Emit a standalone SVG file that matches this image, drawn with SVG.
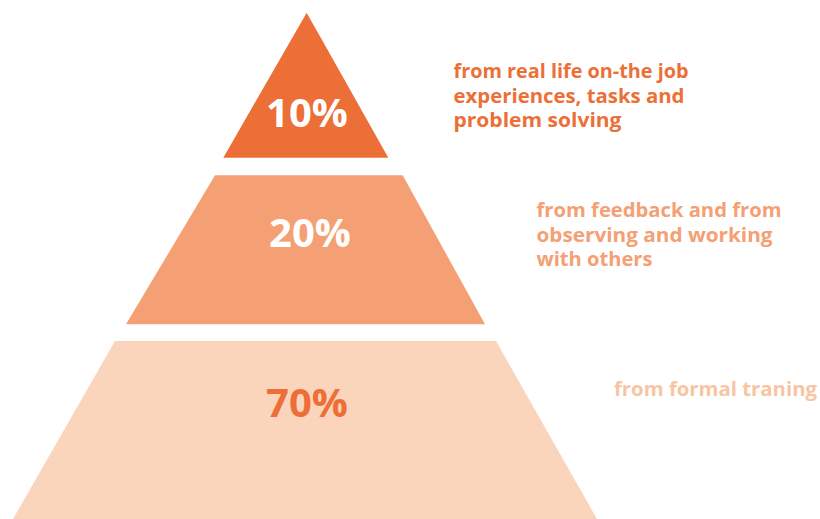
<svg xmlns="http://www.w3.org/2000/svg" width="820" height="519" viewBox="0 0 820 519">
  <style>
    .pct { font-family: "Open Sans", "Noto Sans", sans-serif; font-weight: 700; font-size: 40px; text-anchor: middle; }
    .lbl { font-family: "Open Sans", "Noto Sans", sans-serif; font-weight: 700; font-size: 20px; }
    .c1 { fill: #ec6f38; }
    .c2 { fill: #f4a074; }
    .c3 { fill: #fbd4bc; }
    .c3t { fill: #f9c4a2; }
    .white { fill: #ffffff; }
  </style>
  <rect width="820" height="519" fill="#ffffff"/>

  <!-- top tier: 10% -->
  <g id="tier-top">
    <polygon class="c1" points="306.7,12.7 388.3,157.7 223.3,157.7"/>
    <text class="pct white" x="307" y="127">10%</text>
  </g>

  <!-- middle tier: 20% -->
  <g id="tier-middle">
    <polygon class="c2" points="215,175.3 402.7,175.3 485,324.3 126,324.3"/>
    <text class="pct white" x="310" y="246.5">20%</text>
  </g>

  <!-- bottom tier: 70% -->
  <g id="tier-bottom">
    <polygon class="c3" points="115,341 496,341 597,519 13,519"/>
    <text class="pct c1" x="307" y="417">70%</text>
  </g>

  <!-- descriptions -->
  <g id="label-top">
    <text class="lbl c1" x="453.5" y="78" textLength="235" lengthAdjust="spacingAndGlyphs">from real life on-the job</text>
    <text class="lbl c1" x="453.5" y="102.5" textLength="231" lengthAdjust="spacingAndGlyphs">experiences, tasks and</text>
    <text class="lbl c1" x="453.5" y="127" textLength="168" lengthAdjust="spacingAndGlyphs">problem solving</text>
  </g>
  <g id="label-middle">
    <text class="lbl c2" x="536.5" y="217" textLength="245" lengthAdjust="spacingAndGlyphs">from feedback and from</text>
    <text class="lbl c2" x="536.5" y="241.5" textLength="236" lengthAdjust="spacingAndGlyphs">observing and working</text>
    <text class="lbl c2" x="536.5" y="266" textLength="116" lengthAdjust="spacingAndGlyphs">with others</text>
  </g>
  <g id="label-bottom">
    <text class="lbl c3t" x="614" y="396" textLength="203" lengthAdjust="spacingAndGlyphs">from formal traning</text>
  </g>

  <g id="connectors"/>
</svg>
